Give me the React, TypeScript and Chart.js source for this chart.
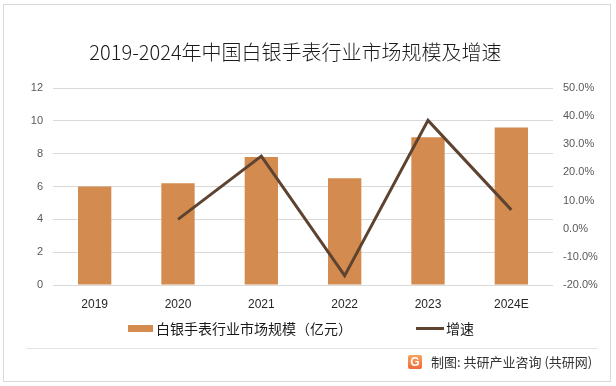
import React, { useEffect, useRef } from "react";
import { Chart, registerables } from "chart.js";

Chart.register(...registerables);

const categories = ["2019", "2020", "2021", "2022", "2023", "2024E"];
const marketSize = [6.0, 6.2, 7.8, 6.5, 9.0, 9.6];
const growthRate: (number | null)[] = [null, 3.3, 25.8, -16.7, 38.5, 6.7];
const leftTicks = [0, 2, 4, 6, 8, 10, 12];
const rightTicks = [-20, -10, 0, 10, 20, 30, 40, 50];

const title = "2019-2024年中国白银手表行业市场规模及增速";
const legendBar = "白银手表行业市场规模（亿元）";
const legendLine = "增速";
const footer = "制图: 共研产业咨询 (共研网)";

const BAR_COLOR = "#D48B4F";
const LINE_COLOR = "#5E4331";
const TICK_COLOR = "#595959";
const FONT = "'Liberation Sans', Arial, sans-serif";
const CJK = "'Noto Sans CJK SC', 'Noto Sans', sans-serif";

export default function App() {
  const ref = useRef<HTMLCanvasElement | null>(null);

  useEffect(() => {
    if (!ref.current) return;
    const chart = new Chart(ref.current, {
      type: "bar",
      data: {
        labels: categories,
        datasets: [
          {
            type: "line",
            label: legendLine,
            data: growthRate,
            yAxisID: "y1",
            borderColor: LINE_COLOR,
            backgroundColor: LINE_COLOR,
            borderWidth: 3,
            pointRadius: 0,
            tension: 0,
            order: 0,
          } as any,
          {
            type: "bar",
            label: legendBar,
            data: marketSize,
            yAxisID: "y",
            backgroundColor: BAR_COLOR,
            categoryPercentage: 1,
            barPercentage: 0.4,
            order: 1,
          },
        ],
      },
      options: {
        animation: false,
        responsive: false,
        maintainAspectRatio: false,
        layout: { padding: { top: 88, left: 0, right: 0, bottom: 0 } },
        plugins: {
          legend: { display: false },
          title: { display: false },
          tooltip: { enabled: false },
        },
        scales: {
          x: {
            grid: { display: false },
            border: { display: false },
            ticks: { color: "#262626", font: { family: FONT, size: 12 }, padding: 4 },
            afterFit: (s: any) => {
              s.height = 101;
            },
          },
          y: {
            position: "left",
            min: 0,
            max: 12,
            afterBuildTicks: (s: any) => {
              s.ticks = leftTicks.map((v) => ({ value: v }));
            },
            grid: { color: "#D9D9D9", drawTicks: false, lineWidth: 1 },
            border: { display: false },
            ticks: { color: TICK_COLOR, font: { family: FONT, size: 11 }, padding: 10 },
            afterFit: (s: any) => {
              s.width = 53;
            },
          },
          y1: {
            position: "right",
            min: -20,
            max: 50,
            afterBuildTicks: (s: any) => {
              s.ticks = rightTicks.map((v) => ({ value: v }));
            },
            grid: { display: false, drawTicks: false },
            border: { display: false },
            ticks: {
              color: TICK_COLOR,
              font: { family: FONT, size: 11 },
              padding: 10,
              callback: (v: any) => Number(v).toFixed(1) + "%",
            },
            afterFit: (s: any) => {
              s.width = 63;
            },
          },
        },
      },
    });
    return () => chart.destroy();
  }, []);

  return (
    <div style={{ position: "relative", width: 616, height: 386, background: "#fff", overflow: "hidden" }}>
      <style>{`body{margin:0;}`}</style>
      <div
        style={{
          position: "absolute",
          left: 3,
          top: 4,
          width: 606,
          height: 376,
          border: "1px solid #D9D9D9",
        }}
      />
      <canvas ref={ref} width={616} height={386} style={{ position: "absolute", left: 0, top: 0 }} />
      <div
        style={{
          position: "absolute",
          left: 0,
          width: 591,
          top: 38,
          textAlign: "center",
          fontFamily: CJK,
          fontSize: 20,
          fontWeight: 300,
          lineHeight: "28px",
          color: "#1a1a1a",
        }}
      >
        {title}
      </div>
      <div style={{ position: "absolute", left: 128, top: 325, width: 25, height: 7, background: BAR_COLOR }} />
      <div
        style={{
          position: "absolute",
          left: 156,
          top: 318,
          fontFamily: CJK,
          fontSize: 14,
          lineHeight: "20px",
          color: "#1a1a1a",
          whiteSpace: "nowrap",
        }}
      >
        {legendBar}
      </div>
      <div style={{ position: "absolute", left: 416, top: 327, width: 28, height: 3, background: LINE_COLOR }} />
      <div
        style={{
          position: "absolute",
          left: 446,
          top: 318,
          fontFamily: CJK,
          fontSize: 14,
          lineHeight: "20px",
          color: "#1a1a1a",
          whiteSpace: "nowrap",
        }}
      >
        {legendLine}
      </div>
      <div style={{ position: "absolute", left: 26, top: 348, width: 572, height: 1, background: "#E3E3E3" }} />
      <div
        style={{
          position: "absolute",
          left: 408,
          top: 355,
          width: 14,
          height: 14,
          borderRadius: 2,
          background: "linear-gradient(180deg, #F7A25A 0%, #F06A3A 100%)",
          color: "#fff",
          fontFamily: FONT,
          fontWeight: 700,
          fontSize: 12,
          lineHeight: "14px",
          textAlign: "center",
        }}
      >
        G
      </div>
      <div
        style={{
          position: "absolute",
          left: 431,
          top: 353,
          fontFamily: CJK,
          fontSize: 13,
          lineHeight: "18px",
          color: "#333",
          whiteSpace: "nowrap",
        }}
      >
        {footer}
      </div>
    </div>
  );
}
